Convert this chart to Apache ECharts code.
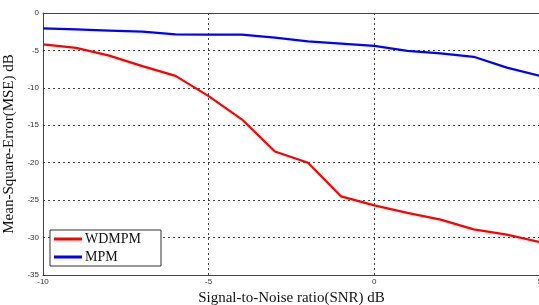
<!DOCTYPE html>
<html>
<head>
<meta charset="utf-8">
<script src="https://cdn.jsdelivr.net/npm/echarts@6/dist/echarts.min.js"></script>
<style>
  html, body { margin: 0; padding: 0; background: #fff; }
  #chart { width: 539px; height: 305px; }
</style>
</head>
<body>
<div id="chart"></div>
<script>
const snr = [-10, -9, -8, -7, -6, -5, -4, -3, -2, -1, 0, 1, 2, 3, 4, 5]
const wdmpm = [-4.2, -4.65, -5.7, -7.1, -8.4, -11.1, -14.2, -18.5, -20.0, -24.5, -25.7, -26.7, -27.6, -28.9, -29.6, -30.6]
const mpm = [-2.05, -2.2, -2.35, -2.5, -2.85, -2.9, -2.9, -3.3, -3.8, -4.1, -4.4, -5.05, -5.4, -5.85, -7.3, -8.4]
const xTicks = [-10, -5, 0, 5]
const yTicks = [-35, -30, -25, -20, -15, -10, -5, 0]

const chart = echarts.init(document.getElementById('chart'))

const serif = '"Liberation Serif", "DejaVu Serif", serif'
const dashed = { show: true, lineStyle: { color: '#444', type: [2, 3], width: 1 } }
const axisLine = { show: true, onZero: false, lineStyle: { color: '#444', width: 1 } }

chart.setOption({
  animation: false,
  grid: { left: 43, top: 13, width: 497, height: 262, outerBoundsMode: 'none', containLabel: false },
  legend: {
    orient: 'vertical',
    left: 50,
    top: 230,
    padding: [1, 6, 1, 4],
    itemGap: 2,
    itemWidth: 28,
    itemHeight: 3,
    icon: 'rect',
    backgroundColor: '#fff',
    borderColor: '#333',
    borderWidth: 1,
    borderRadius: 0,
    textStyle: { fontFamily: serif, fontSize: 14, color: '#111', width: 70, lineHeight: 16, padding: [0, 0, 0, -2] },
    data: ['WDMPM', 'MPM']
  },
  xAxis: [{
    type: 'value',
    min: xTicks[0],
    max: xTicks[xTicks.length - 1],
    interval: 5,
    name: 'Signal-to-Noise ratio(SNR) dB',
    nameLocation: 'middle',
    nameGap: 15,
    nameTextStyle: { fontFamily: serif, fontSize: 15, color: '#111' },
    axisLine: axisLine,
    axisTick: { show: false },
    axisLabel: { fontSize: 8, color: '#333', margin: 3, fontFamily: 'Liberation Sans' },
    splitLine: dashed
  }, {
    type: 'value',
    position: 'top',
    min: -10, max: 5,
    axisLine: axisLine,
    axisTick: { show: false },
    axisLabel: { show: false },
    splitLine: { show: false }
  }],
  yAxis: {
    type: 'value',
    min: yTicks[0],
    max: yTicks[yTicks.length - 1],
    interval: 5,
    name: 'Mean-Square-Error(MSE) dB',
    nameLocation: 'middle',
    nameGap: 24,
    nameTextStyle: { fontFamily: serif, fontSize: 15, color: '#111' },
    axisLine: axisLine,
    axisTick: { show: false },
    axisLabel: { fontSize: 8, color: '#333', margin: 4, fontFamily: 'Liberation Sans' },
    splitLine: dashed
  },
  series: [{
    name: 'WDMPM',
    type: 'line',
    data: snr.map((x, i) => [x, wdmpm[i]]),
    symbol: 'none',
    lineStyle: { color: '#ff0000', width: 2.2 },
    itemStyle: { color: '#ff0000' }
  }, {
    name: 'MPM',
    type: 'line',
    data: snr.map((x, i) => [x, mpm[i]]),
    symbol: 'none',
    lineStyle: { color: '#0000ff', width: 2.2 },
    itemStyle: { color: '#0000ff' }
  }]
})
</script>
</body>
</html>
